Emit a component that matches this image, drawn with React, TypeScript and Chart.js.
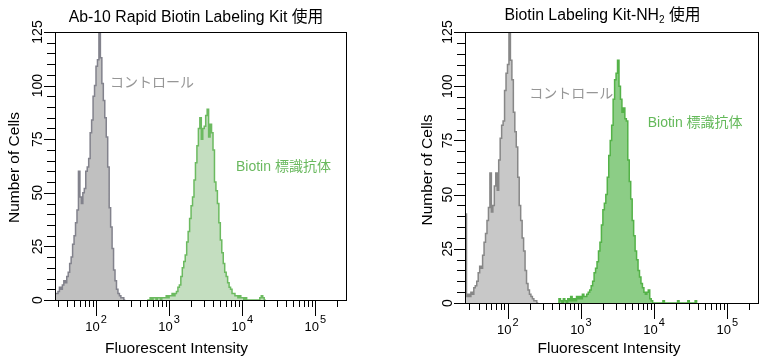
import React, { useEffect, useRef } from 'react';
import { Chart, registerables } from 'chart.js';

Chart.register(...registerables);

// ---------- data ----------
// histogram channels: counts per log10 bin (bin width in decades)
const binWidthLog = 0.02;

const ctrlAStartLog = 1.44;
const ctrlACounts = [3, 3, 4, 6, 5, 7, 9, 8, 11, 13, 17, 20, 26, 30, 36, 42, 60, 48, 45, 50, 52, 60, 62, 66, 78, 84, 95, 100, 109, 112, 125, 113, 101, 93, 85, 76, 62, 43, 34, 24, 14, 9, 5, 3, 2, 1, 1, 0];

const biotinAStartLog = 2.7;
const biotinACounts = [0, 0, 1, 0, 1, 1, 0, 1, 1, 0, 1, 1, 1, 2, 1, 2, 2, 3, 2, 3, 4, 6, 7, 11, 15, 18, 21, 27, 32, 38, 44, 48, 56, 64, 72, 80, 85, 75, 80, 81, 86, 89, 76, 82, 78, 70, 55, 51, 45, 36, 28, 22, 17, 13, 11, 8, 6, 5, 3, 3, 2, 2, 1, 2, 1, 1, 0, 1, 0, 0, 0, 0, 0, 0, 0, 0, 0, 1, 2, 1, 0];

const ctrlBStartLog = 1.417;
const ctrlBCounts = [41, 3, 4, 3, 5, 4, 7, 8, 10, 14, 17, 16, 22, 28, 32, 38, 44, 60, 42, 45, 54, 60, 52, 66, 76, 82, 84, 98, 106, 110, 125, 112, 103, 88, 79, 72, 58, 45, 38, 30, 24, 15, 9, 6, 4, 3, 2, 1, 1, 0];

const biotinBStartLog = 2.7;
const biotinBCounts = [2, 1, 0, 2, 1, 0, 2, 1, 3, 1, 2, 1, 3, 2, 3, 2, 4, 3, 3, 4, 5, 6, 8, 10, 14, 16, 19, 24, 28, 36, 43, 46, 50, 58, 68, 75, 82, 94, 103, 106, 112, 100, 94, 88, 90, 85, 84, 66, 56, 48, 38, 31, 24, 20, 15, 12, 9, 7, 5, 4, 5, 6, 2, 1, 0, 0, 0, 0, 0, 0, 0, 1, 0, 0, 0, 0, 0, 0, 0, 0, 0, 1, 0, 0, 0, 0, 0, 0, 1, 0, 0, 0, 0, 1];

const yMax = 125;
const yLabelTicks = [0, 25, 50, 75, 100, 125];
const yMinorStep = 5;
const decadeValues = [100, 1000, 10000, 100000];
const decadeExponents = ['2', '3', '4', '5'];
const minorMultipliers = [2, 3, 4, 5, 6, 7, 8, 9];
const xMax = 262144;

const titleA = 'Ab-10 Rapid Biotin Labeling Kit 使用';
const titleBMain = 'Biotin Labeling Kit-NH';
const titleBSub = '2';
const titleBTail = ' 使用';
const xTitle = 'Fluorescent Intensity';
const yTitle = 'Number of Cells';
const ctrlLabel = 'コントロール';
const biotinLabel = 'Biotin 標識抗体';

const FONT = '"Liberation Sans", Arial, "Noto Sans CJK JP", sans-serif';

function toPoints(startLog: number, counts: number[]) {
  const pts: { x: number; y: number }[] = [];
  pts.push({ x: Math.pow(10, startLog), y: 0 });
  counts.forEach((c, i) => pts.push({ x: Math.pow(10, startLog + i * binWidthLog), y: c }));
  pts.push({ x: Math.pow(10, startLog + counts.length * binWidthLog), y: 0 });
  return pts;
}

type Cfg = {
  width: number;
  padding: { left: number; right: number; top: number; bottom: number };
  xMin: number;
  ctrl: { start: number; counts: number[]; fill: string; line: string };
  bio: { start: number; counts: number[]; fill: string; line: string };
  title: { cx: number; by: number; sub: boolean };
  xTitle: { cx: number; by: number };
  yTitle: { bx: number; cy: number };
  ctrlText: { x: number; y: number; color: string };
  bioText: { x: number; y: number; color: string };
};

function makeDecor(cfg: Cfg) {
  return {
    id: 'decor',
    afterDraw(chart: any) {
      const { ctx, chartArea: a, scales } = chart;
      const xs = scales.x;
      const ys = scales.y;
      ctx.save();
      ctx.strokeStyle = '#000';
      ctx.fillStyle = '#000';
      ctx.lineWidth = 1;
      ctx.strokeRect(a.left + 0.5, a.top + 0.5, a.right - a.left, a.bottom - a.top);

      const line = (x1: number, y1: number, x2: number, y2: number) => {
        ctx.beginPath();
        ctx.moveTo(x1, y1);
        ctx.lineTo(x2, y2);
        ctx.stroke();
      };

      // x ticks
      decadeValues.concat([10]).forEach((d) => {
        [1].concat(minorMultipliers).forEach((k) => {
          const v = k * d;
          if (v < xs.min || v > xs.max) return;
          const px = Math.round(xs.getPixelForValue(v)) + 0.5;
          line(px, a.bottom, px, a.bottom + (k === 1 ? 16 : 7));
        });
      });
      // x labels 10^n
      ctx.textBaseline = 'alphabetic';
      ctx.textAlign = 'left';
      decadeValues.forEach((v, i) => {
        const px = xs.getPixelForValue(v);
        ctx.font = `13px ${FONT}`;
        const w1 = ctx.measureText('10').width;
        ctx.font = `11px ${FONT}`;
        const w2 = ctx.measureText(decadeExponents[i]).width;
        const start = px - (w1 + w2 + 1) / 2;
        ctx.font = `13px ${FONT}`;
        ctx.fillText('10', start, a.bottom + 31);
        ctx.font = `11px ${FONT}`;
        ctx.fillText(decadeExponents[i], start + w1 + 1, a.bottom + 22.5);
      });

      // y ticks
      for (let v = 0; v <= yMax; v += yMinorStep) {
        const py = Math.round(ys.getPixelForValue(v)) + 0.5;
        const len = v % 25 === 0 ? 11 : 8;
        line(a.left - len, py, a.left, py);
      }
      // y labels (rotated)
      ctx.font = `14px ${FONT}`;
      ctx.textAlign = 'center';
      yLabelTicks.forEach((v) => {
        const py = ys.getPixelForValue(v);
        ctx.save();
        ctx.translate(a.left - 13, py);
        ctx.rotate(-Math.PI / 2);
        ctx.fillText(String(v), 0, 0);
        ctx.restore();
      });

      // axis titles
      ctx.font = `15.5px ${FONT}`;
      ctx.textAlign = 'center';
      ctx.fillText(xTitle, cfg.xTitle.cx, cfg.xTitle.by);
      ctx.save();
      ctx.translate(cfg.yTitle.bx, cfg.yTitle.cy);
      ctx.rotate(-Math.PI / 2);
      ctx.fillText(yTitle, 0, 0);
      ctx.restore();

      // chart title
      if (!cfg.title.sub) {
        ctx.font = `15.8px ${FONT}`;
        ctx.textAlign = 'center';
        ctx.fillText(titleA, cfg.title.cx, cfg.title.by);
      } else {
        ctx.font = `15.8px ${FONT}`;
        const w1 = ctx.measureText(titleBMain).width;
        const w3 = ctx.measureText(titleBTail).width;
        ctx.font = `10px ${FONT}`;
        const w2 = ctx.measureText(titleBSub).width;
        const start = cfg.title.cx - (w1 + w2 + w3) / 2;
        ctx.textAlign = 'left';
        ctx.font = `15.8px ${FONT}`;
        ctx.fillText(titleBMain, start, cfg.title.by);
        ctx.fillText(titleBTail, start + w1 + w2, cfg.title.by);
        ctx.font = `10px ${FONT}`;
        ctx.fillText(titleBSub, start + w1, cfg.title.by + 3);
      }

      // annotations
      ctx.font = `14px ${FONT}`;
      ctx.textAlign = 'left';
      ctx.textBaseline = 'middle';
      ctx.fillStyle = cfg.ctrlText.color;
      ctx.fillText(ctrlLabel, cfg.ctrlText.x, cfg.ctrlText.y);
      ctx.fillStyle = cfg.bioText.color;
      ctx.fillText(biotinLabel, cfg.bioText.x, cfg.bioText.y);
      ctx.restore();
    },
  };
}

function HistChart({ cfg }: { cfg: Cfg }) {
  const ref = useRef<HTMLCanvasElement>(null);
  useEffect(() => {
    if (!ref.current) return;
    const chart = new Chart(ref.current, {
      type: 'line',
      data: {
        datasets: [
          {
            data: toPoints(cfg.ctrl.start, cfg.ctrl.counts),
            borderColor: cfg.ctrl.line,
            backgroundColor: cfg.ctrl.fill,
            borderWidth: 1.5,
            fill: 'origin',
            stepped: true,
            pointRadius: 0,
          },
          {
            data: toPoints(cfg.bio.start, cfg.bio.counts),
            borderColor: cfg.bio.line,
            backgroundColor: cfg.bio.fill,
            borderWidth: 1.5,
            fill: 'origin',
            stepped: true,
            pointRadius: 0,
          },
        ],
      },
      options: {
        animation: false,
        responsive: false,
        maintainAspectRatio: false,
        devicePixelRatio: 1,
        layout: { padding: cfg.padding },
        plugins: { legend: { display: false }, tooltip: { enabled: false }, title: { display: false } },
        scales: {
          x: { type: 'logarithmic', min: cfg.xMin, max: xMax, display: false },
          y: { type: 'linear', min: 0, max: yMax, display: false },
        },
      } as any,
      plugins: [makeDecor(cfg)],
    });
    return () => chart.destroy();
  }, []);
  return <canvas ref={ref} width={cfg.width} height={361} style={{ display: 'block', width: cfg.width, height: 361 }} />;
}

const cfgA: Cfg = {
  width: 390,
  padding: { left: 55, right: 44, top: 32, bottom: 61 },
  xMin: 27.5,
  ctrl: { start: ctrlAStartLog, counts: ctrlACounts, fill: 'rgb(192,192,192)', line: 'rgb(130,130,140)' },
  bio: { start: biotinAStartLog, counts: biotinACounts, fill: 'rgb(196,222,192)', line: 'rgb(108,186,96)' },
  title: { cx: 196, by: 21.5, sub: false },
  xTitle: { cx: 176.5, by: 352.5 },
  yTitle: { bx: 19, cy: 167.5 },
  ctrlText: { x: 110, y: 83, color: 'rgb(150,150,150)' },
  bioText: { x: 236, y: 167.5, color: 'rgb(106,185,95)' },
};

const cfgB: Cfg = {
  width: 383,
  padding: { left: 75, right: 15, top: 32, bottom: 58 },
  xMin: 26.1,
  ctrl: { start: ctrlBStartLog, counts: ctrlBCounts, fill: 'rgb(200,200,200)', line: 'rgb(135,135,135)' },
  bio: { start: biotinBStartLog, counts: biotinBCounts, fill: 'rgb(140,205,134)', line: 'rgb(84,178,72)' },
  title: { cx: 212.5, by: 19.5, sub: true },
  xTitle: { cx: 219, by: 352.7 },
  yTitle: { bx: 41.7, cy: 170 },
  ctrlText: { x: 139.3, y: 94, color: 'rgb(150,150,150)' },
  bioText: { x: 257.7, y: 123.5, color: 'rgb(100,185,90)' },
};

export default function App() {
  return (
    <div style={{ position: 'absolute', left: 0, top: 0, width: 773, height: 361, background: '#fff' }}>
      <div style={{ position: 'absolute', left: 0, top: 0 }}>
        <HistChart cfg={cfgA} />
      </div>
      <div style={{ position: 'absolute', left: 390, top: 0 }}>
        <HistChart cfg={cfgB} />
      </div>
    </div>
  );
}
